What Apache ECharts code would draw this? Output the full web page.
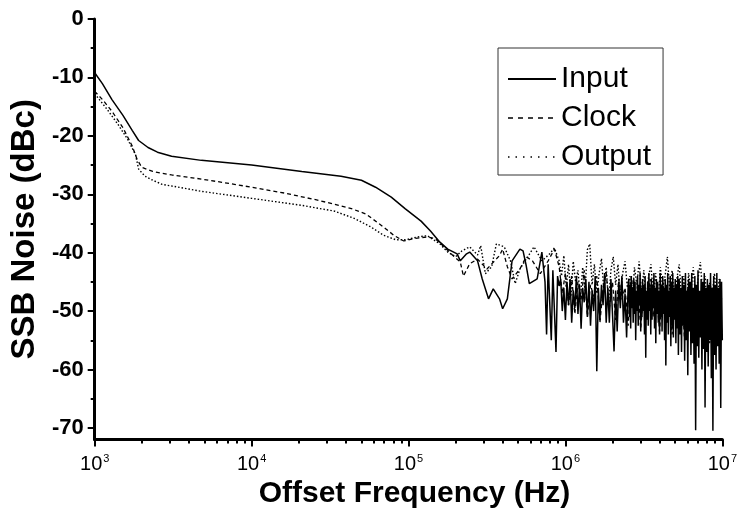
<!DOCTYPE html>
<html>
<head>
<meta charset="utf-8">
<script src="https://cdn.jsdelivr.net/npm/echarts@6/dist/echarts.min.js"></script>
<style>
html,body{margin:0;padding:0;background:#fff;}
#c{width:740px;height:514px;}
</style>
</head>
<body>
<div id="c"></div>
<script>
// x values are log10(frequency in Hz); y values are SSB noise in dBc
const inputHead = [[3.00,-9.2],[3.05,-11.1],[3.11,-13.8],[3.18,-16.5],[3.24,-19.1],[3.28,-20.8],[3.34,-22.0],[3.40,-22.8],[3.49,-23.5],[3.68,-24.2],[4.00,-25.0],[4.32,-26.1],[4.57,-26.9],[4.70,-27.6],[4.79,-28.8],[4.89,-30.5],[4.98,-32.5],[5.08,-34.6],[5.14,-36.3],[5.20,-38.2],[5.25,-39.4],[5.31,-40.2],[5.33,-41.4],[5.37,-40.2],[5.39,-39.9],[5.44,-41.4],[5.47,-44.5],[5.51,-47.9],[5.54,-46.2],[5.58,-47.9],[5.60,-49.6],[5.63,-47.9],[5.66,-41.4],[5.71,-39.4],[5.73,-39.7],[5.75,-42.2],[5.77,-45.3],[5.82,-44.5],[5.85,-39.9],[5.87,-45.0],[5.88,-54.0],[5.89,-42.0],[5.91,-55.0],[5.92,-43.0],[5.94,-57.0],[5.95,-44.0],[5.96,-45.7]];
const inputNoiseA = [[5.97,-44.5],[5.98,-50.0],[5.99,-46.0],[6.00,-51.5],[6.01,-45.0],[6.02,-49.0],[6.03,-44.5],[6.04,-52.0],[6.05,-46.5],[6.06,-49.5],[6.07,-44.0],[6.08,-50.5],[6.09,-45.5],[6.10,-53.0],[6.11,-46.0],[6.12,-48.5],[6.13,-44.5],[6.14,-51.0],[6.15,-45.0],[6.16,-52.5],[6.17,-46.5],[6.18,-50.0],[6.19,-44.0],[6.20,-60.3],[6.21,-46.0],[6.22,-51.5],[6.23,-45.5],[6.24,-49.0],[6.25,-43.5],[6.26,-52.0],[6.27,-46.0],[6.28,-52.0],[6.29,-44.5],[6.30,-50.5],[6.31,-56.9],[6.32,-46.5],[6.33,-53.5],[6.34,-45.0],[6.35,-49.5],[6.36,-44.0],[6.37,-52.0],[6.38,-47.0],[6.39,-54.5],[6.40,-45.5]];
const inputNoiseB = [[6.404,-44.5],[6.408,-51.0],[6.412,-45.5],[6.416,-53.0],[6.420,-44.0],[6.424,-49.5],[6.428,-46.0],[6.432,-52.0],[6.436,-44.5],[6.440,-50.5],[6.444,-45.0],[6.448,-55.0],[6.452,-46.5],[6.456,-50.0],[6.460,-44.0],[6.464,-52.5],[6.468,-45.5],[6.472,-49.0],[6.476,-43.5],[6.480,-53.5],[6.484,-46.0],[6.488,-51.0],[6.492,-44.5],[6.496,-50.0],[6.500,-45.5],[6.504,-54.0],[6.508,-44.0],[6.512,-58.0],[6.516,-46.5],[6.520,-51.5],[6.524,-45.0],[6.528,-52.5],[6.532,-43.5],[6.536,-50.0],[6.540,-46.0],[6.544,-54.0],[6.548,-44.5],[6.552,-51.5],[6.556,-45.5],[6.560,-49.5],[6.564,-43.5],[6.568,-53.0],[6.572,-46.0],[6.576,-55.5],[6.580,-44.5],[6.584,-50.5],[6.588,-45.0],[6.592,-52.0],[6.596,-46.5],[6.600,-54.0],[6.604,-43.5],[6.608,-51.0],[6.612,-45.5],[6.616,-53.5],[6.620,-44.0],[6.624,-50.5],[6.628,-46.0],[6.632,-55.0],[6.636,-44.5],[6.640,-59.3],[6.644,-45.5],[6.648,-52.0],[6.652,-43.5],[6.656,-54.0],[6.660,-46.5],[6.664,-51.0],[6.668,-44.0],[6.672,-56.0],[6.676,-45.0],[6.680,-52.5],[6.684,-43.5],[6.688,-54.5],[6.692,-46.0],[6.696,-51.5],[6.700,-44.5],[6.704,-55.5],[6.708,-45.5],[6.712,-53.0],[6.716,-44.0],[6.720,-57.5]];
const inputNoiseC = [[6.725,-44.5],[6.730,-54.0],[6.735,-46.0],[6.740,-57.0],[6.745,-44.0],[6.750,-52.5],[6.755,-45.5],[6.760,-58.5],[6.765,-43.5],[6.770,-55.0],[6.775,-46.5],[6.780,-61.0],[6.785,-44.5],[6.790,-53.5],[6.795,-45.0],[6.800,-57.5],[6.805,-43.5],[6.810,-55.5],[6.815,-46.0],[6.820,-59.0],[6.825,-44.0],[6.830,-70.4],[6.835,-45.5],[6.840,-56.0],[6.845,-43.0],[6.850,-58.0],[6.855,-46.5],[6.860,-54.5],[6.865,-44.5],[6.870,-60.0],[6.875,-45.0],[6.880,-56.5],[6.885,-43.5],[6.890,-66.5],[6.895,-46.0],[6.900,-57.0],[6.905,-44.5],[6.910,-59.5],[6.915,-45.5],[6.920,-55.0],[6.925,-43.5],[6.930,-61.5],[6.935,-46.0],[6.940,-70.5],[6.945,-44.0],[6.950,-57.5],[6.955,-45.5],[6.960,-60.0],[6.965,-43.5],[6.970,-56.0],[6.975,-46.0],[6.980,-59.0],[6.985,-44.5],[6.990,-66.6],[6.995,-45.0],[7.000,-55.0]];

const clockHead = [[3.00,-12.4],[3.05,-13.8],[3.11,-15.8],[3.18,-18.6],[3.24,-21.8],[3.27,-24.0],[3.30,-25.4],[3.37,-26.1],[3.49,-26.7],[3.68,-27.4],[3.89,-28.3],[4.00,-28.8],[4.21,-29.8],[4.42,-31.0],[4.63,-32.4],[4.73,-33.4],[4.80,-34.8],[4.85,-35.8],[4.91,-37.1],[4.97,-38.0],[5.03,-37.6],[5.12,-37.3],[5.17,-37.6],[5.22,-38.8],[5.28,-40.4],[5.33,-41.6],[5.35,-44.0],[5.39,-41.9],[5.44,-41.1],[5.50,-42.8],[5.58,-40.5],[5.60,-39.4],[5.63,-42.4],[5.66,-44.5],[5.71,-42.8],[5.75,-40.7],[5.79,-41.4],[5.84,-43.6],[5.89,-41.4],[5.93,-39.4],[5.96,-42.4]];
const clockNoise = [[5.98,-47.0],[6.00,-43.5],[6.02,-49.0],[6.04,-44.0],[6.06,-50.5],[6.08,-45.0],[6.10,-48.0],[6.12,-43.0],[6.14,-51.0],[6.16,-45.5],[6.18,-47.5],[6.20,-44.0],[6.22,-52.0],[6.24,-46.0],[6.26,-43.5],[6.28,-49.5],[6.30,-45.0],[6.32,-51.5],[6.34,-44.5],[6.36,-48.0],[6.38,-46.0],[6.40,-52.5],[6.42,-44.0],[6.44,-49.0],[6.46,-45.5],[6.48,-53.0],[6.50,-46.0],[6.52,-48.5],[6.54,-44.5],[6.56,-51.0],[6.58,-46.5],[6.60,-53.5],[6.62,-45.0],[6.64,-49.5],[6.66,-47.0],[6.68,-54.0],[6.70,-45.5],[6.72,-50.5],[6.74,-47.0],[6.76,-55.0],[6.78,-46.0],[6.80,-51.5],[6.82,-48.0],[6.84,-56.0],[6.86,-46.5],[6.88,-52.0],[6.90,-48.5],[6.92,-55.5],[6.94,-47.0],[6.96,-53.0],[6.98,-49.0],[7.00,-54.5]];

const outputHead = [[3.00,-12.8],[3.03,-13.8],[3.08,-15.5],[3.15,-18.1],[3.21,-20.6],[3.26,-23.2],[3.28,-25.7],[3.32,-26.9],[3.37,-27.6],[3.43,-28.3],[3.68,-29.5],[4.00,-30.7],[4.32,-31.9],[4.53,-32.9],[4.66,-34.2],[4.76,-35.6],[4.84,-37.0],[4.92,-37.8],[4.98,-37.8],[5.06,-37.3],[5.12,-37.1],[5.20,-38.5],[5.25,-39.9],[5.30,-40.7],[5.34,-39.7],[5.39,-39.0],[5.44,-40.4],[5.46,-38.8],[5.49,-43.6],[5.53,-42.4],[5.56,-38.5],[5.61,-39.0],[5.65,-41.4],[5.68,-45.3],[5.71,-42.8],[5.76,-40.7],[5.80,-39.0],[5.85,-41.4],[5.90,-40.2],[5.93,-39.2],[5.96,-41.4]];
const outputNoise = [[5.975,-44.0],[5.990,-40.5],[6.005,-46.0],[6.020,-42.0],[6.035,-47.5],[6.050,-41.5],[6.065,-45.0],[6.080,-43.0],[6.095,-48.0],[6.110,-42.5],[6.125,-46.5],[6.140,-39.5],[6.155,-38.5],[6.170,-45.5],[6.185,-42.0],[6.200,-47.0],[6.215,-43.5],[6.230,-41.0],[6.245,-46.5],[6.260,-42.5],[6.275,-48.5],[6.290,-43.0],[6.305,-40.7],[6.320,-45.5],[6.335,-42.0],[6.350,-47.5],[6.365,-43.5],[6.380,-41.5],[6.395,-46.0],[6.410,-44.0],[6.425,-49.0],[6.440,-42.5],[6.455,-45.5],[6.470,-41.5],[6.485,-47.0],[6.500,-43.0],[6.515,-48.5],[6.530,-44.0],[6.545,-42.0],[6.560,-47.5],[6.575,-43.5],[6.590,-49.0],[6.605,-42.5],[6.620,-46.0],[6.635,-44.0],[6.650,-40.7],[6.665,-46.5],[6.680,-43.0],[6.695,-48.0],[6.710,-44.5],[6.725,-42.0],[6.740,-47.5],[6.755,-44.0],[6.770,-49.5],[6.785,-43.5],[6.800,-46.5],[6.815,-42.5],[6.830,-48.0],[6.845,-44.5],[6.860,-41.6],[6.875,-47.0],[6.890,-44.0],[6.905,-50.0],[6.920,-45.0],[6.935,-47.5],[6.950,-43.5],[6.965,-49.0],[6.980,-44.5],[6.995,-48.0]];

const seriesNames = ['Input', 'Clock', 'Output'];
const xMajorTicks = [1e3, 1e4, 1e5, 1e6, 1e7];
const xMinorMultipliers = [2, 3, 4, 5, 6, 7, 8, 9];
const yMajorTicks = [0, -10, -20, -30, -40, -50, -60, -70];
const yMinorTicks = [-5, -15, -25, -35, -45, -55, -65];
const xTitle = 'Offset Frequency (Hz)';
const yTitle = 'SSB Noise (dBc)';

const xMinorTicks = [];
[1e3, 1e4, 1e5, 1e6].forEach(d => xMinorMultipliers.forEach(m => xMinorTicks.push(d * m)));

const toXY = arr => arr.map(p => [Math.pow(10, p[0]), p[1]]);
const FONT = '"Liberation Sans", Arial, Helvetica, sans-serif';

const chart = echarts.init(document.getElementById('c'), null, {renderer: 'canvas'});
const baseX = {type: 'log', logBase: 10, min: 1e3, max: 1e7, gridIndex: 0, position: 'bottom', splitLine: {show: false}, minorSplitLine: {show: false}};
const baseY = {type: 'value', min: -72, max: 0, gridIndex: 0, position: 'left', splitLine: {show: false}};

chart.setOption({
  animation: false,
  backgroundColor: '#fff',
  grid: {left: 92, right: 16, top: 19, bottom: 72.5, containLabel: false},
  xAxis: [
    Object.assign({}, baseX, {
      name: xTitle, nameLocation: 'middle', nameGap: 37,
      nameTextStyle: {fontFamily: FONT, fontWeight: 'bold', fontSize: 30, color: '#000', padding: [0, 0, 0, 12]},
      axisLine: {show: true, onZero: false, lineStyle: {color: '#000', width: 3}},
      axisTick: {show: true, inside: false, length: 7, customValues: xMajorTicks, lineStyle: {color: '#000', width: 2}},
      axisLabel: {
        show: true, customValues: xMajorTicks, margin: 14, color: '#000', fontFamily: FONT, fontSize: 20,
        formatter: v => '10{s|' + Math.round(Math.log10(v)) + '}',
        rich: {s: {fontSize: 11, fontFamily: FONT, color: '#000', verticalAlign: 'top', padding: [0, 0, 10, 1]}}
      }
    }),
    Object.assign({}, baseX, {
      axisLine: {show: false, onZero: false},
      axisTick: {show: true, inside: false, length: 4, customValues: xMinorTicks, lineStyle: {color: '#000', width: 2}},
      axisLabel: {show: false}
    })
  ],
  yAxis: [
    Object.assign({}, baseY, {
      name: yTitle, nameLocation: 'middle', nameGap: 49, nameRotate: 90,
      nameTextStyle: {fontFamily: FONT, fontWeight: 'bold', fontSize: 33, color: '#000'},
      axisLine: {show: true, lineStyle: {color: '#000', width: 3}},
      axisTick: {show: true, inside: false, length: 7, customValues: yMajorTicks, lineStyle: {color: '#000', width: 2}},
      axisLabel: {show: true, customValues: yMajorTicks, margin: 11, color: '#000', fontFamily: FONT, fontWeight: 'bold', fontSize: 22}
    }),
    Object.assign({}, baseY, {
      axisLine: {show: false},
      axisTick: {show: true, inside: false, length: 4, customValues: yMinorTicks, lineStyle: {color: '#000', width: 2}},
      axisLabel: {show: false}
    })
  ],
  legend: {
    show: true, orient: 'vertical', left: 498, top: 48,
    data: [
      {name: seriesNames[0]},
      {name: seriesNames[1], lineStyle: {type: [5, 5], width: 1.3}},
      {name: seriesNames[2], lineStyle: {type: [1.5, 6], width: 1.3}}
    ],
    backgroundColor: '#fff', borderColor: '#333', borderWidth: 1,
    padding: [16, 12, 3, 9], itemGap: 9, itemWidth: 48, itemHeight: 30,
    itemStyle: {opacity: 0},
    textStyle: {fontFamily: FONT, fontSize: 30, color: '#000'}
  },
  series: [
    {name: seriesNames[0], type: 'line', xAxisIndex: 0, yAxisIndex: 0, showSymbol: false, symbol: 'none',
     lineStyle: {color: '#000', width: 1.5, type: 'solid'}, itemStyle: {color: '#000'},
     data: toXY(inputHead.concat(inputNoiseA, inputNoiseB, inputNoiseC)), z: 3},
    {name: seriesNames[1], type: 'line', xAxisIndex: 0, yAxisIndex: 0, showSymbol: false, symbol: 'none',
     lineStyle: {color: '#000', width: 1.3, type: [4, 3]}, itemStyle: {color: '#000'},
     data: toXY(clockHead.concat(clockNoise)), z: 2},
    {name: seriesNames[2], type: 'line', xAxisIndex: 0, yAxisIndex: 0, showSymbol: false, symbol: 'none',
     lineStyle: {color: '#000', width: 1.4, type: [1.5, 2]}, itemStyle: {color: '#000'},
     data: toXY(outputHead.concat(outputNoise)), z: 2}
  ]
});
</script>
</body>
</html>
